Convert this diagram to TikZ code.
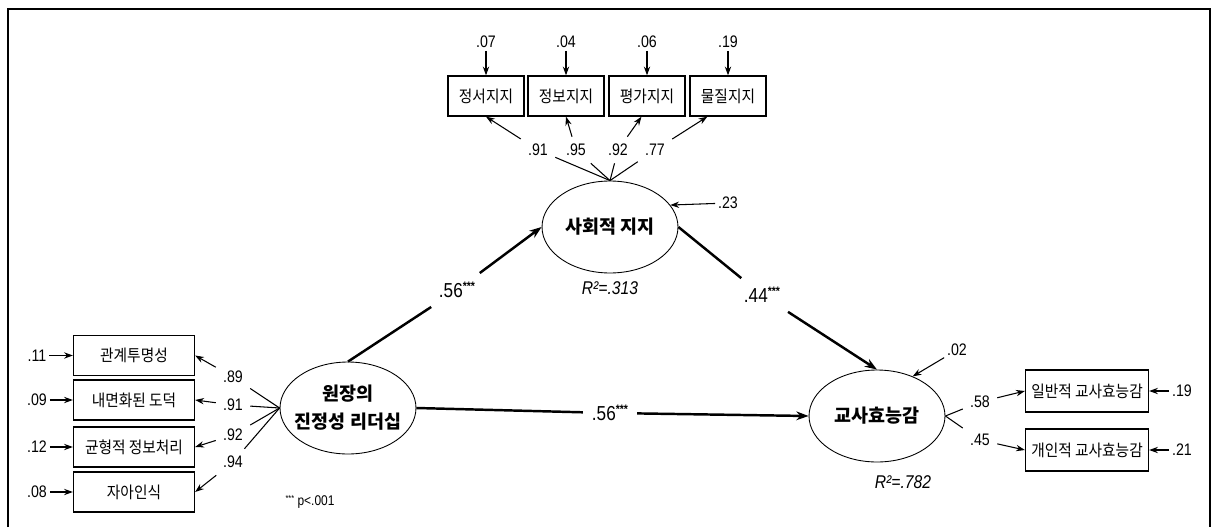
\documentclass[tikz,border=0pt]{standalone}
\usepackage{fontspec}
\setmainfont{Noto Sans CJK KR}
\newfontfamily\boxfont[FakeStretch=0.9]{Noto Sans CJK KR}
\newfontfamily\numfont[FakeStretch=0.85]{Liberation Sans}
\usetikzlibrary{shapes.geometric,arrows.meta}

\newcommand{\stars}{\raisebox{4pt}{\fontsize{7}{7}\selectfont\bfseries ***}}

\begin{document}
\begin{tikzpicture}[x=0.02cm,y=-0.02cm,
  >={Stealth[length=5pt,width=3.6pt]},
  obs/.style={draw,line width=0.75pt,minimum height=0.8cm,inner sep=0pt,font=\boxfont\fontsize{9.3}{11}\selectfont},
  lat/.style={draw,ellipse,line width=0.5pt,minimum width=2.72cm,minimum height=1.84cm,inner xsep=-12pt,inner ysep=-2pt,align=center,font=\fontsize{10.5}{16}\selectfont\bfseries},
  num/.style={inner sep=1.5pt,font=\numfont\fontsize{9.5}{11}\selectfont},
  load/.style={num,inner sep=4pt},
  coef/.style={inner sep=5pt,font=\numfont\fontsize{11.5}{13}\selectfont},
  rsq/.style={font=\numfont\itshape\fontsize{10.5}{12}\selectfont},
  arr/.style={line width=0.6pt},
  struct/.style={line width=1.4pt,>={Stealth[length=7pt,width=5pt]}}]
  \useasboundingbox (0,0) rectangle (1212,527);
  \draw[line width=1.1pt] (8,527) -- (8,9) -- (1210,9) -- (1210,527);

  \node[lat] (S) at (610,227) {사회적 지지};
  \node[lat] (L) at (348,408) {원장의\\진정성 리더십};
  \node[lat] (T) at (877,416) {교사효능감};

  \node[obs,minimum width=1.52cm] (t1) at (486,96) {정서지지};
  \node[obs,minimum width=1.52cm] (t2) at (566,96) {정보지지};
  \node[obs,minimum width=1.52cm] (t3) at (647,96) {평가지지};
  \node[obs,minimum width=1.52cm] (t4) at (728,96) {물질지지};

  \node[obs,minimum width=2.42cm] (b1) at (134,355.5) {관계투명성};
  \node[obs,minimum width=2.42cm] (b2) at (134,400) {내면화된 도덕};
  \node[obs,minimum width=2.42cm] (b3) at (134,447) {균형적 정보처리};
  \node[obs,minimum width=2.42cm] (b4) at (134,492) {자아인식};

  \node[obs,minimum width=2.46cm,minimum height=0.84cm] (r1) at (1087,391) {일반적 교사효능감};
  \node[obs,minimum width=2.46cm,minimum height=0.84cm] (r2) at (1087,450) {개인적 교사효능감};

  \node[num] (e1) at (486,42) {.07};
  \node[num] (e2) at (566,42) {.04};
  \node[num] (e3) at (647,42) {.06};
  \node[num] (e4) at (728,42) {.19};
  \foreach \i in {1,...,4}
    \draw[arr,->] (e\i) -- (t\i);

  \node[load] (l1) at (538,150) {.91};
  \node[load] (l2) at (576,150) {.95};
  \node[load] (l3) at (618,150) {.92};
  \node[load] (l4) at (655,150) {.77};
  \foreach \i/\a in {1/south,2/south,3/-105,4/-135}
    \draw[arr,->] (S.north) -- (l\i) -- (t\i.\a);

  \node[num] (g1) at (37,355.5) {.11};
  \node[num] (g2) at (37,400) {.09};
  \node[num] (g3) at (37,447) {.12};
  \node[num] (g4) at (37,492) {.08};
  \node[load] (m1) at (233,377) {.89};
  \node[load] (m2) at (233,405) {.91};
  \node[load] (m3) at (233,435) {.92};
  \node[load] (m4) at (233,462) {.94};
  \foreach \i in {1,...,4}{
    \draw[arr,->] (g\i) -- (b\i);
    \draw[arr,->] (L.west) -- (m\i) -- (b\i.east);
  }

  \node[load] (n1) at (980,402) {.58};
  \node[load] (n2) at (980,440) {.45};
  \node[num] (f1) at (1182,391) {.19};
  \node[num] (f2) at (1182,450) {.21};
  \foreach \i in {1,2}{
    \draw[arr,->] (T.east) -- (n\i) -- (r\i.west);
    \draw[arr,->] (f\i) -- (r\i);
  }

  \node[num] (eS) at (728,203) {.23};
  \node[num] (eT) at (957,350) {.02};
  \draw[arr,->] (eS) -- (S.20);
  \draw[arr,->] (eT) -- (T.48);

  \node[coef] (c1) at (457,290) {.56\stars};
  \node[coef] (c2) at (762,295) {.44\stars};
  \node[coef] (c3) at (610,413) {.56\stars};
  \draw[struct,->] (L.north) -- (c1) -- (S.west);
  \draw[struct,->] (S.east) -- (c2) -- (T.north);
  \draw[struct,->] (L.east) -- (c3) -- (T.west);

  \node[rsq] (R1) at (610,288) {R²=.313};
  \node[rsq] (R2) at (903,482) {R²=.782};
  \node[num,font=\numfont\fontsize{8}{9}\selectfont] (P) at (310,502) {\raisebox{2pt}{\fontsize{5}{5}\selectfont ***} p<.001};
\end{tikzpicture}
\end{document}
